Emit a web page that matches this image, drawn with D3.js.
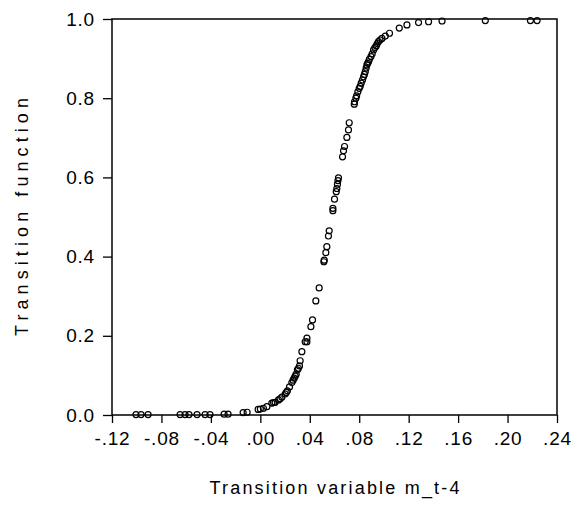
<!DOCTYPE html>
<html>
<head>
<meta charset="utf-8">
<script src="https://cdn.jsdelivr.net/npm/d3@7"></script>
<style>
  body { margin: 0; background: #fff; }
  text { font-family: "Liberation Sans", Arial, sans-serif; fill: #000; }
</style>
</head>
<body>
<div id="main"></div>
<script>
const ctx = {
    SVG_W: 573,
    SVG_H: 514,
    left: 112, right: 557, top: 19, bottom: 415,
};

// transition variable (x)
const tvar = [
  -0.1006, -0.0965, -0.0908, -0.0649, -0.0609, -0.0577, -0.0512, -0.0447, -0.0407,
  -0.0293, -0.0261, -0.0139, -0.0107, -0.0018,
  0.0000, 0.0025, 0.0053, 0.0093, 0.0107, 0.0120, 0.0147, 0.0160, 0.0174, 0.0201,
  0.0210, 0.0219, 0.0236, 0.0255, 0.0265, 0.0274, 0.0282, 0.0290, 0.0300, 0.0308,
  0.0317, 0.0322, 0.0336, 0.0363, 0.0377, 0.0377, 0.0409, 0.0422, 0.0449, 0.0476,
  0.0514, 0.0517, 0.0530, 0.0538, 0.0551, 0.0557, 0.0587, 0.0587, 0.0600, 0.0614,
  0.0619, 0.0624, 0.0628, 0.0632, 0.0665, 0.0673, 0.0681, 0.0700, 0.0713, 0.0719,
  0.0760, 0.0762, 0.0773, 0.0779, 0.0789, 0.0800, 0.0808, 0.0816, 0.0826, 0.0835,
  0.0842, 0.0849, 0.0856, 0.0862, 0.0868, 0.0875, 0.0882, 0.0895, 0.0905, 0.0916,
  0.0927, 0.0938, 0.0946, 0.0956, 0.0968, 0.0984, 0.1011, 0.1045, 0.1124, 0.1186,
  0.1280, 0.1361, 0.1470, 0.1820, 0.2185, 0.2239
];

// transition function values (y)
const tfun = [
  0.001, 0.001, 0.001, 0.001, 0.001, 0.001, 0.001, 0.001, 0.001,
  0.002, 0.002, 0.006, 0.007, 0.014,
  0.015, 0.017, 0.021, 0.030, 0.031, 0.032, 0.038, 0.041, 0.045, 0.053,
  0.057, 0.061, 0.071, 0.082, 0.088, 0.093, 0.098, 0.103, 0.114, 0.118,
  0.124, 0.137, 0.160, 0.185, 0.185, 0.194, 0.223, 0.240, 0.288, 0.321,
  0.387, 0.391, 0.410, 0.425, 0.452, 0.465, 0.516, 0.522, 0.545, 0.564,
  0.572, 0.583, 0.592, 0.599, 0.652, 0.667, 0.678, 0.701, 0.720, 0.738,
  0.785, 0.791, 0.800, 0.806, 0.816, 0.825, 0.830, 0.838, 0.846, 0.854,
  0.860, 0.867, 0.876, 0.884, 0.888, 0.892, 0.898, 0.905, 0.912, 0.922,
  0.928, 0.932, 0.938, 0.943, 0.947, 0.951, 0.957, 0.964, 0.977, 0.985,
  0.991, 0.993, 0.995, 0.996, 0.996, 0.996
];

const xTicks = [-0.12, -0.08, -0.04, 0.00, 0.04, 0.08, 0.12, 0.16, 0.20, 0.24];
const yTicks = [0.0, 0.2, 0.4, 0.6, 0.8, 1.0];
const xTitle = "Transition variable m_t-4";
const yTitle = "Transition function";

function drawChart(svg) {
    const x = d3.scaleLinear().domain([-0.12, 0.24]).range([ctx.left, ctx.right]);
    const y = d3.scaleLinear().domain([0, 1]).range([ctx.bottom, ctx.top]);

    // "-.12" / ".04" style, plain hyphen, no leading zero
    const fmtX = d => {
        let s = Math.abs(d).toFixed(2).replace(/^0\./, ".");
        return (d < 0 ? "-" : "") + s;
    };

    const xAxis = svg.append("g")
        .attr("transform", `translate(0,${ctx.bottom})`)
        .call(d3.axisBottom(x).tickValues(xTicks).tickFormat(fmtX).tickSize(8).tickPadding(9));
    const yAxis = svg.append("g")
        .attr("transform", `translate(${ctx.left},0)`)
        .call(d3.axisLeft(y).tickValues(yTicks).tickFormat(d3.format(".1f")).tickSize(9).tickPadding(8));

    [xAxis, yAxis].forEach(g => {
        g.select(".domain").remove();
        g.selectAll("line").attr("stroke", "#000").attr("stroke-width", 1.3);
        g.selectAll("text")
          .attr("font-size", 19)
          .attr("letter-spacing", 0.8)
          .attr("font-family", "Liberation Sans, Arial, sans-serif");
    });

    // frame
    svg.append("rect")
        .attr("x", ctx.left).attr("y", ctx.top)
        .attr("width", ctx.right - ctx.left).attr("height", ctx.bottom - ctx.top)
        .attr("fill", "none").attr("stroke", "#000").attr("stroke-width", 1.5);

    svg.selectAll(".pt")
        .data(d3.zip(tvar, tfun))
        .enter().append("circle")
        .attr("class", "pt")
        .attr("cx", d => x(d[0]))
        .attr("cy", d => y(d[1]))
        .attr("r", 3)
        .attr("fill", "none")
        .attr("stroke", "#000")
        .attr("stroke-width", 1.2);

    svg.append("text")
        .attr("x", (ctx.left + ctx.right) / 2)
        .attr("y", 494)
        .attr("text-anchor", "middle")
        .attr("font-size", 18)
        .attr("textLength", 250)
        .attr("lengthAdjust", "spacing")
        .text(xTitle);

    svg.append("text")
        .attr("transform", `translate(28,${(ctx.top + ctx.bottom) / 2}) rotate(-90)`)
        .attr("text-anchor", "middle")
        .attr("font-size", 18)
        .attr("textLength", 238)
        .attr("lengthAdjust", "spacing")
        .text(yTitle);
}

function createViz() {
    let svgEl = d3.select("#main").append("svg");
    svgEl.attr("width", ctx.SVG_W);
    svgEl.attr("height", ctx.SVG_H);
    drawChart(svgEl);
}
createViz();
</script>
</body>
</html>
